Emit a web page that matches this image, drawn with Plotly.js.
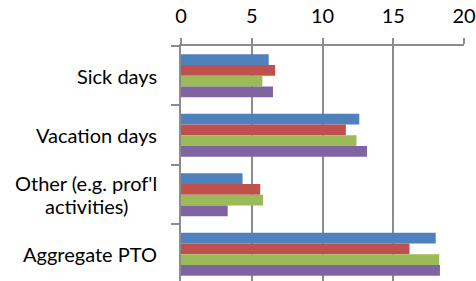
<!DOCTYPE html>
<html><head><meta charset="utf-8">
<script src="https://cdn.plot.ly/plotly-3.0.1.min.js"></script>
<style>html,body{margin:0;padding:0;background:#fff}#c{width:476px;height:281px}</style>
</head><body><div id="c"></div>
<script>
const categories = ["Sick days", "Vacation days", "Other (e.g. prof'l<br>activities)", "Aggregate PTO"];
const series1 = [6.2, 12.6, 4.35, 18.0];
const series2 = [6.65, 11.65, 5.6, 16.15];
const series3 = [5.75, 12.4, 5.8, 18.25];
const series4 = [6.5, 13.15, 3.3, 18.3];
const xTicks = [0, 5, 10, 15, 20];
const colors = ["#4F81BD", "#C0504D", "#9BBB59", "#8064A2"];
const allSeries = [series1, series2, series3, series4];

const FONT = "Lato, sans-serif";
const FS = 20;
const LINE_H = 23;
const LABEL_GAP = 22;

const data = allSeries.map((s, i) => ({
  type: "bar", orientation: "h", y: categories, x: s,
  marker: {color: colors[i]}, showlegend: false, hoverinfo: "none"
}));

const annotations = [];
const groupOf = [];
categories.forEach((c, ci) => {
  const lines = c.split("<br>");
  lines.forEach((ln, i) => {
    annotations.push({
      xref: "paper", yref: "y", x: 0, y: c, text: ln, showarrow: false,
      xanchor: "right", yanchor: "middle", align: "right",
      font: {family: FONT, size: FS, color: "#000"},
      xshift: -LABEL_GAP, yshift: -(i - (lines.length - 1) / 2) * LINE_H
    });
    groupOf.push(ci);
  });
});

const layout = {
  width: 476, height: 281,
  margin: {l: 181, r: 12, t: 46, b: 0},
  paper_bgcolor: "#fff", plot_bgcolor: "#fff",
  barmode: "group", bargap: 0.28, bargroupgap: 0,
  font: {family: FONT, size: FS, color: "#000"},
  xaxis: {
    side: "top", range: [0, 20], tickvals: xTicks, ticktext: xTicks.map(String),
    showgrid: true, gridcolor: "#8c8c8c", gridwidth: 2,
    showline: true, linecolor: "#8c8c8c", linewidth: 2,
    ticks: "outside", ticklen: 6, tickcolor: "#8c8c8c", tickwidth: 2,
    ticklabelstandoff: 7, ticklabeloverflow: "allow", zeroline: false, fixedrange: true
  },
  yaxis: {
    type: "category", range: [3.45, -0.5], showticklabels: false,
    tickson: "boundaries", ticks: "outside", ticklen: 8, tickcolor: "#8c8c8c", tickwidth: 2,
    showline: true, linecolor: "#8c8c8c", linewidth: 2,
    showgrid: false, zeroline: false, fixedrange: true
  },
  annotations: annotations
};

Plotly.newPlot("c", data, layout, {staticPlot: true}).then(gd => {
  // center the lines of each multi-line label on each other (Excel style)
  const nodes = gd.querySelectorAll(".annotation-text");
  const widths = Array.from(nodes).map(n => n.getBBox().width);
  const maxW = {};
  widths.forEach((w, i) => { maxW[groupOf[i]] = Math.max(maxW[groupOf[i]] || 0, w); });
  const upd = {};
  widths.forEach((w, i) => {
    upd["annotations[" + i + "].xshift"] = -LABEL_GAP - (maxW[groupOf[i]] - w) / 2;
  });
  return Plotly.relayout(gd, upd);
});
</script></body></html>
